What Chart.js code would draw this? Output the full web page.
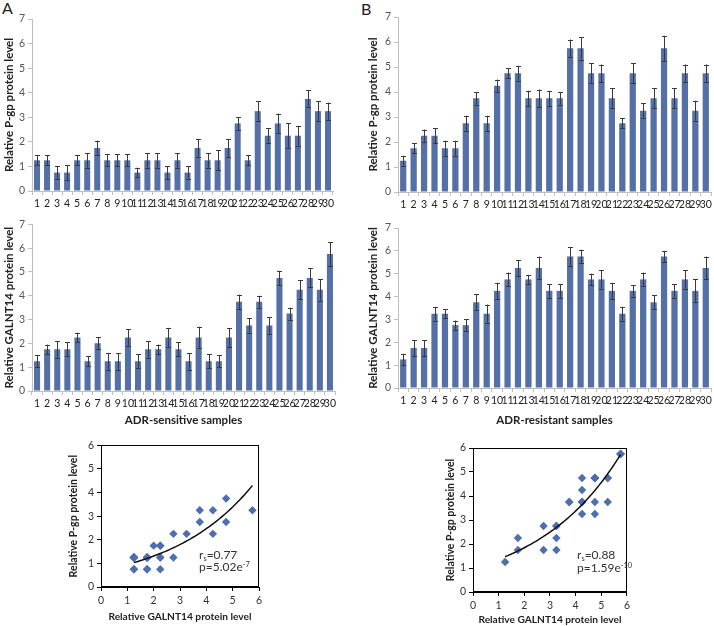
<!DOCTYPE html>
<html>
<head>
<meta charset="utf-8">
<script src="https://cdn.jsdelivr.net/npm/chart.js@4"></script>
<style>
  html,body{margin:0;padding:0;background:#fff;}
  body{width:714px;height:626px;position:relative;overflow:hidden;font-family:Lato,"Liberation Sans",sans-serif;}
  canvas{position:absolute;}
  .lbl{position:absolute;color:#222;font-size:16px;}
  .ann{position:absolute;font-size:12px;color:#333;line-height:12px;}
  .ann sub{font-size:7.5px;vertical-align:-2px;line-height:0;}
  .ann sup{font-size:7.5px;vertical-align:4px;line-height:0;}
</style>
</head>
<body>
<div class="lbl" style="left:2px;top:-2px;">A</div>
<div class="lbl" style="left:361px;top:-1px;">B</div>
<canvas id="c1" style="left:0px;top:0px;" width="340" height="215"></canvas>
<canvas id="c2" style="left:0px;top:215px;" width="340" height="215"></canvas>
<canvas id="c3" style="left:362px;top:0px;" width="352" height="215"></canvas>
<canvas id="c4" style="left:362px;top:215px;" width="352" height="215"></canvas>
<canvas id="c5" style="left:62px;top:436px;" width="205" height="190"></canvas>
<canvas id="c6" style="left:436px;top:438px;" width="197" height="188"></canvas>
<div class="ann" style="left:199px;top:549px;">r<sub>s</sub>=0.77</div>
<div class="ann" style="left:199px;top:561px;">p=5.02e<sup>-7</sup></div>
<div class="ann" style="left:577px;top:549px;">r<sub>s</sub>=0.88</div>
<div class="ann" style="left:577px;top:562px;">p=1.59e<sup>-10</sup></div>
<script>
// ---------- data ----------
const samples = ['1','2','3','4','5','6','7','8','9','10','11','12','13','14','15','16','17','18','19','20','21','22','23','24','25','26','27','28','29','30'];

const sensPgp    = [1.25,1.25,0.75,0.75,1.25,1.25,1.75,1.25,1.25,1.25,0.75,1.25,1.25,0.75,1.25,0.75,1.75,1.25,1.25,1.75,2.75,1.25,3.25,2.25,2.75,2.25,2.25,3.75,3.25,3.25];
const sensPgpErr = [0.2,0.2,0.25,0.3,0.2,0.3,0.3,0.25,0.25,0.25,0.2,0.3,0.3,0.25,0.3,0.25,0.35,0.3,0.4,0.35,0.25,0.2,0.4,0.3,0.4,0.5,0.4,0.35,0.4,0.35];

const sensGal    = [1.25,1.75,1.75,1.75,2.25,1.25,2.0,1.25,1.25,2.25,1.25,1.75,1.75,2.25,1.75,1.25,2.25,1.25,1.25,2.25,3.75,2.75,3.75,2.75,4.75,3.25,4.25,4.75,4.25,5.75];
const sensGalErr = [0.25,0.2,0.35,0.3,0.2,0.2,0.25,0.35,0.35,0.35,0.3,0.35,0.2,0.4,0.3,0.35,0.45,0.3,0.25,0.4,0.3,0.3,0.25,0.35,0.3,0.25,0.4,0.4,0.45,0.5];

const resPgp     = [1.25,1.75,2.25,2.25,1.75,1.75,2.75,3.75,2.75,4.25,4.75,4.75,3.75,3.75,3.75,3.75,5.75,5.75,4.75,4.75,3.75,2.75,4.75,3.25,3.75,5.75,3.75,4.75,3.25,4.75];
const resPgpErr  = [0.2,0.2,0.25,0.3,0.3,0.3,0.3,0.25,0.3,0.25,0.2,0.3,0.3,0.35,0.3,0.25,0.35,0.45,0.4,0.35,0.4,0.2,0.4,0.3,0.4,0.5,0.4,0.35,0.4,0.35];

const resGal     = [1.25,1.75,1.75,3.25,3.25,2.75,2.75,3.75,3.25,4.25,4.75,5.25,4.75,5.25,4.25,4.25,5.75,5.75,4.75,4.75,4.25,3.25,4.25,4.75,3.75,5.75,4.25,4.75,4.25,5.25];
const resGalErr  = [0.25,0.35,0.35,0.3,0.2,0.2,0.25,0.35,0.4,0.35,0.3,0.35,0.2,0.5,0.3,0.3,0.4,0.3,0.25,0.4,0.35,0.3,0.25,0.3,0.3,0.25,0.3,0.4,0.5,0.5];

const barTicks = [0,1,2,3,4,5,6,7];
const scatterTicks = [0,1,2,3,4,5,6];

// ---------- styles ----------
const FONT = 'Lato, "Liberation Sans", sans-serif';
const BAR = '#5570A7';
const AXIS = '#bfbfbf';
const TICKC = '#555';

const errorBars = {
  id:'errorBars',
  afterDatasetsDraw(chart, args, opts){
    const ctx = chart.ctx, xs = chart.scales.x, ys = chart.scales.y;
    const vals = chart.data.datasets[0].data, errs = opts.errors;
    ctx.save();
    ctx.strokeStyle = '#3a3a3a';
    ctx.lineWidth = 1;
    vals.forEach((v,i)=>{
      const x = Math.round(xs.getPixelForValue(i)) + 0.5;
      const y1 = ys.getPixelForValue(v - errs[i]);
      const y2 = ys.getPixelForValue(v + errs[i]);
      ctx.beginPath();
      ctx.moveTo(x, y1); ctx.lineTo(x, y2);
      ctx.moveTo(x-2.5, Math.round(y1)+0.5); ctx.lineTo(x+2.5, Math.round(y1)+0.5);
      ctx.moveTo(x-2.5, Math.round(y2)+0.5); ctx.lineTo(x+2.5, Math.round(y2)+0.5);
      ctx.stroke();
    });
    ctx.restore();
  }
};

function barChart(id, values, errors, cfg){
  return new Chart(document.getElementById(id), {
    type:'bar',
    data:{labels:samples, datasets:[{data:values, backgroundColor:BAR, barPercentage:0.6, categoryPercentage:1}]},
    options:{
      responsive:false, animation:false, devicePixelRatio:1,
      layout:{padding:{top:cfg.pt, right:cfg.pr, left:0, bottom:0}},
      plugins:{legend:{display:false}, tooltip:{enabled:false}, errorBars:{errors:errors}},
      scales:{
        x:{
          grid:{drawOnChartArea:false, tickLength:4, color:AXIS, offset:true},
          border:{color:AXIS},
          ticks:{autoSkip:false, maxRotation:0, minRotation:0, padding:2, color:'#222', font:{family:FONT, size:10.5}},
          title:{display:!!cfg.xTitle, text:cfg.xTitle||'', color:'#222', font:{family:FONT, size:11.5, weight:'bold'}, padding:{top:0,bottom:3}},
          afterFit(s){ s.height = cfg.hx; }
        },
        y:{
          min:0, max:7,
          afterBuildTicks(s){ s.ticks = barTicks.map(v=>({value:v})); },
          grid:{drawOnChartArea:false, tickLength:4, color:AXIS},
          border:{color:AXIS},
          ticks:{padding:3, color:TICKC, font:{family:FONT, size:10.5}},
          title:{display:true, text:cfg.yTitle, color:'#222', font:{family:FONT, size:11.5, weight:'bold'}, padding:{top:cfg.tp, bottom:0}},
          afterFit(s){ s.width = cfg.wy; }
        }
      }
    },
    plugins:[errorBars]
  });
}

barChart('c1', sensPgp, sensPgpErr, {pt:19, pr:7, hx:24, wy:32, tp:2, yTitle:'Relative P-gp protein level'});
barChart('c2', sensGal, sensGalErr, {pt:9, pr:5, hx:39, wy:32, tp:2, yTitle:'Relative GALNT14 protein level', xTitle:'ADR-sensitive samples'});
barChart('c3', resPgp, resPgpErr, {pt:17, pr:3, hx:23, wy:36, tp:4, yTitle:'Relative P-gp protein level'});
barChart('c4', resGal, resGalErr, {pt:13, pr:3, hx:42, wy:36, tp:4, yTitle:'Relative GALNT14 protein level', xTitle:'ADR-resistant samples'});

// ---------- scatter with exponential trendline (least squares on ln y) ----------
function expFit(xs, ys){
  const n = xs.length;
  const ly = ys.map(Math.log);
  const mx = xs.reduce((a,b)=>a+b,0)/n, ml = ly.reduce((a,b)=>a+b,0)/n;
  let sxy=0, sxx=0;
  for(let i=0;i<n;i++){ sxy += (xs[i]-mx)*(ly[i]-ml); sxx += (xs[i]-mx)*(xs[i]-mx); }
  const b = sxy/sxx;
  return {a:Math.exp(ml - b*mx), b:b};
}
function trend(xs, ys){
  const f = expFit(xs, ys);
  const lo = Math.min(...xs), hi = Math.max(...xs), pts = [];
  for(let k=0;k<=60;k++){ const x = lo + (hi-lo)*k/60; pts.push({x:x, y:f.a*Math.exp(f.b*x)}); }
  return pts;
}
const frame = {
  id:'frame',
  afterDraw(chart){
    const a = chart.chartArea, ctx = chart.ctx;
    ctx.save(); ctx.strokeStyle='#000'; ctx.lineWidth=1;
    ctx.strokeRect(Math.round(a.left)+0.5, Math.round(a.top)+0.5, Math.round(a.right-a.left)-1, Math.round(a.bottom-a.top)-1);
    ctx.restore();
  }
};
function scatterChart(id, gx, py, cfg){
  const pts = gx.map((x,i)=>({x:x, y:py[i]}));
  return new Chart(document.getElementById(id), {
    type:'scatter',
    data:{datasets:[
      {data:pts, pointStyle:'rectRot', pointRadius:4.2, backgroundColor:'#4E6EAE', borderColor:'#4E6EAE', borderWidth:0, order:2},
      {type:'line', data:trend(gx, py), borderColor:'#111', borderWidth:1.5, pointRadius:0, fill:false, tension:0, order:1}
    ]},
    options:{
      responsive:false, animation:false, devicePixelRatio:1,
      layout:{padding:{top:cfg.pt, right:cfg.pr, left:0, bottom:0}},
      plugins:{legend:{display:false}, tooltip:{enabled:false}},
      scales:{
        x:{
          type:'linear', min:0, max:6,
          afterBuildTicks(s){ s.ticks = scatterTicks.map(v=>({value:v})); },
          grid:{drawOnChartArea:false, tickLength:4, color:'#000'},
          border:{color:'#000'},
          ticks:{padding:3, color:'#333', font:{family:FONT, size:10.5}},
          title:{display:true, text:'Relative GALNT14 protein level', color:'#222', font:{family:FONT, size:10.2, weight:'bold'}, padding:{top:0,bottom:cfg.xb}},
          afterFit(s){ s.height = cfg.hx; }
        },
        y:{
          min:0, max:6,
          afterBuildTicks(s){ s.ticks = scatterTicks.map(v=>({value:v})); },
          grid:{drawOnChartArea:false, tickLength:4, color:'#000'},
          border:{color:'#000'},
          ticks:{padding:3, color:'#333', font:{family:FONT, size:10.5}},
          title:{display:true, text:'Relative P-gp protein level', color:'#222', font:{family:FONT, size:10.5, weight:'bold'}, padding:{top:cfg.tp,bottom:0}},
          afterFit(s){ s.width = cfg.wy; }
        }
      }
    },
    plugins:[frame]
  });
}
scatterChart('c5', sensGal, sensPgp, {pt:8, pr:8, hx:39, wy:39, tp:5, xb:3});
scatterChart('c6', resGal, resPgp, {pt:10, pr:6, hx:34, wy:37, tp:8, xb:0});
</script>
</body>
</html>
